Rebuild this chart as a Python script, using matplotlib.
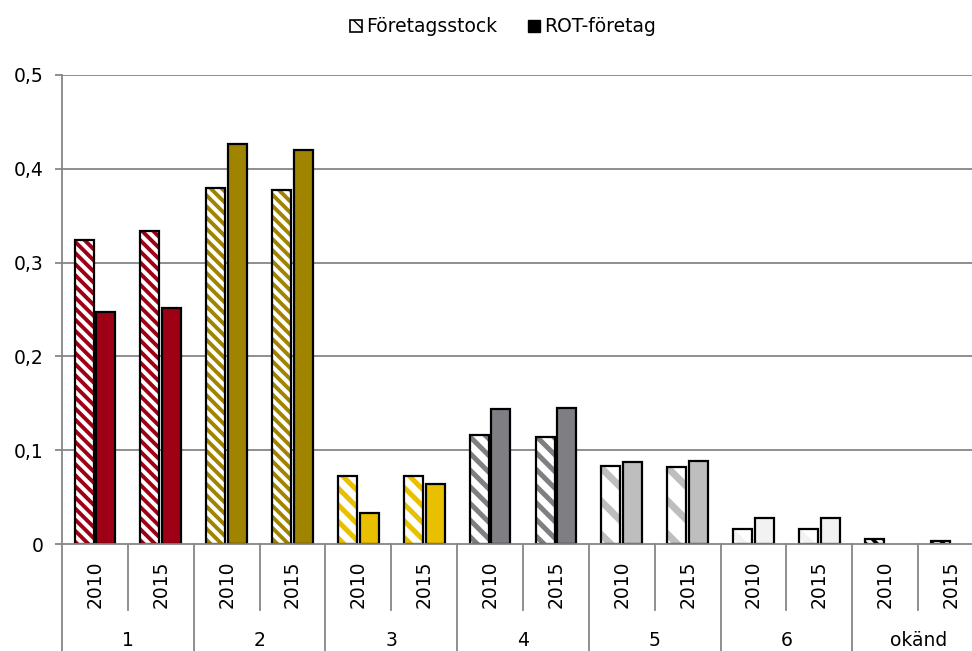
import matplotlib
matplotlib.use("Agg")
import matplotlib.pyplot as plt
import matplotlib.transforms as mtransforms
from matplotlib.patches import Patch

groups = ["1", "2", "3", "4", "5", "6", "okänd"]
years = ["2010", "2015"]
stock = [0.324, 0.334, 0.379, 0.377, 0.073, 0.072, 0.1166, 0.114,
         0.0835, 0.0817, 0.0156, 0.0156, 0.0053, 0.0035]
rot = [0.247, 0.252, 0.426, 0.420, 0.0334, 0.064, 0.144, 0.145,
       0.0878, 0.0885, 0.028, 0.028, 0.0, 0.0]
group_colors = ["#9E0016", "#A08400", "#E8C000", "#7F7E83",
                "#BEBEBE", "#F2F2F2", "#000000"]
group_hatch = ["\\\\\\", "\\\\\\", "\\\\", "\\\\", "\\", "\\", "\\\\\\"]
group_hlw = [2.8, 2.8, 3.6, 3.6, 5.0, 5.0, 2.6]
yticks = [0, 0.1, 0.2, 0.3, 0.4, 0.5]
ytick_labels = ["0", "0,1", "0,2", "0,3", "0,4", "0,5"]

plt.rcParams['font.family'] = ['DejaVu Sans']
FS = 13.5
W, H = 972, 651
fig = plt.figure(figsize=(W / 100, H / 100), dpi=100)
left, right, top, bottom = 62, 984, 75, 544
ax = fig.add_axes([left / W, (H - bottom) / H, (right - left) / W, (bottom - top) / H])

grid_color = "#868686"
n = len(stock)
xs = list(range(n))
off, bw = 0.165, 0.29

for i in xs:
    g = i // 2
    col = group_colors[g]
    with plt.rc_context({'hatch.linewidth': group_hlw[g]}):
        ax.bar(i - off, stock[i], width=bw, facecolor="white", edgecolor=col,
               hatch=group_hatch[g], linewidth=0, zorder=3)
    ax.bar(i - off, stock[i], width=bw, fill=False, edgecolor="black",
           linewidth=1.6, zorder=4)
    if rot[i] > 0:
        ax.bar(i + off, rot[i], width=bw, facecolor=col, edgecolor="black",
               linewidth=1.6, zorder=4)

ax.set_xlim(-0.5, n - 0.5)
ax.set_ylim(0, 0.5)
ax.set_yticks(yticks)
ax.set_yticklabels(ytick_labels, fontsize=FS)
ax.tick_params(axis='y', length=5, width=1.3, color=grid_color, pad=8)
ax.set_xticks([])
for y in yticks[1:]:
    ax.axhline(y, color=grid_color, linewidth=1.3, zorder=1)
for s in ["top", "right"]:
    ax.spines[s].set_visible(False)
ax.spines["left"].set_color(grid_color)
ax.spines["left"].set_linewidth(1.3)
ax.spines["bottom"].set_color(grid_color)
ax.spines["bottom"].set_linewidth(1.3)
ax.spines["bottom"].set_zorder(5)

trans = mtransforms.blended_transform_factory(ax.transData, ax.transAxes)
ph = bottom - top
y_sep_short = -(610 - bottom) / ph
y_sep_long = -(H + 5 - bottom) / ph
y_year = -(584 - bottom) / ph
y_group = -(640 - bottom) / ph

for i in range(n + 1):
    x = i - 0.5
    y2 = y_sep_long if i % 2 == 0 else y_sep_short
    ax.plot([x, x], [0, y2], color=grid_color, linewidth=1.3,
            transform=trans, clip_on=False)
for i in xs:
    ax.text(i, y_year, years[i % 2], rotation=90, ha="center", va="center",
            fontsize=FS, transform=trans)
for g, name in enumerate(groups):
    ax.text(2 * g + 0.5, y_group, name, ha="center", va="center",
            fontsize=FS, transform=trans)

with plt.rc_context({'hatch.linewidth': 3.0}):
    h1 = Patch(facecolor="white", edgecolor="black", hatch="\\", linewidth=1.2,
               label="Företagsstock")
h2 = Patch(facecolor="black", edgecolor="black", label="ROT-företag")
fig.legend(handles=[h1, h2], loc="center", bbox_to_anchor=(503 / W, 1 - 27 / H),
           ncol=2, frameon=False, fontsize=FS, handlelength=0.65,
           handleheight=0.65, handletextpad=0.25, columnspacing=1.6)

fig.savefig("out.png", dpi=100)
